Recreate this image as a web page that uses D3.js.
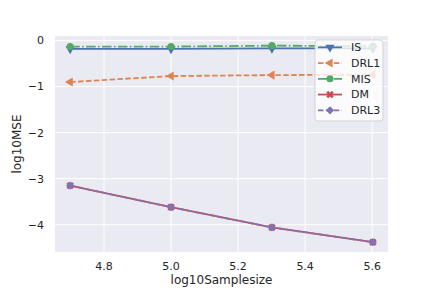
<!DOCTYPE html>
<html><head><meta charset="utf-8">
<script src="https://cdn.jsdelivr.net/npm/d3@7"></script>
<style>body{margin:0;background:#fff}svg{display:block}text{font-family:"DejaVu Sans",sans-serif;fill:#262626}</style>
</head><body><svg id="c" width="432" height="288"></svg>
<script>
const xValues = [4.699, 5.0, 5.301, 5.602];
const seriesNames = ["IS", "DRL1", "MIS", "DM", "DRL3"];
const IS   = [-0.18, -0.18, -0.17, -0.17];
const DRL1 = [-0.90, -0.77, -0.75, -0.74];
const MIS  = [-0.13, -0.13, -0.11, -0.12];
const DM   = [-3.15, -3.62, -4.06, -4.38];
const DRL3 = [-3.15, -3.62, -4.06, -4.38];
const xTicks = [4.8, 5.0, 5.2, 5.4, 5.6];
const yTicks = [0, -1, -2, -3, -4];

const styles = {
  IS:   {color:"#4C72B0", dash:null, sym:d3.symbolTriangle, rot:180, size:36},
  DRL1: {color:"#DD8452", dash:"5.5,2.4", sym:d3.symbolTriangle, rot:-90, size:36},
  MIS:  {color:"#55A868", dash:"9.6,2.4,1.5,2.4", sym:d3.symbolCircle, rot:0, size:40},
  DM:   {color:"#C44E52", dash:null, sym:d3.symbolCross, rot:45, size:34},
  DRL3: {color:"#8172B3", dash:"5.5,2.4", sym:d3.symbolSquare, rot:45, size:34}
};
const dataMap = {IS, DRL1, MIS, DM, DRL3};

const svg = d3.select("#c");
const L = 55, R = 388, T = 36, B = 252;
const x = d3.scaleLinear().domain([4.6538, 5.6472]).range([L, R]);
const y = d3.scaleLinear().domain([-4.593, 0.1]).range([B, T]);

svg.append("rect").attr("x", L).attr("y", T).attr("width", R-L).attr("height", B-T).attr("fill", "#EAEAF2");
const g = svg.append("g");
g.selectAll(".gx").data(xTicks).join("line").attr("x1", d=>x(d)).attr("x2", d=>x(d)).attr("y1", T).attr("y2", B).attr("stroke", "#fff").attr("stroke-width", 1);
g.selectAll(".gy").data(yTicks).join("line").attr("y1", d=>y(d)).attr("y2", d=>y(d)).attr("x1", L).attr("x2", R).attr("stroke", "#fff").attr("stroke-width", 1);

svg.selectAll(".xt").data(xTicks).join("text").attr("x", d=>x(d)).attr("y", 270).attr("text-anchor","middle").attr("font-size", 11).text(d=>d3.format(".1f")(d));
svg.selectAll(".yt").data(yTicks).join("text").attr("x", 44).attr("y", d=>y(d)).attr("dy","0.35em").attr("text-anchor","end").attr("font-size", 11).text(d=>d3.format("d")(d).replace("-","\u2212"));
svg.append("text").attr("x", (L+R)/2).attr("y", 284).attr("text-anchor","middle").attr("font-size", 12).text("log10Samplesize");
svg.append("text").attr("transform", `translate(21,${(T+B)/2}) rotate(-90)`).attr("text-anchor","middle").attr("font-size", 12).text("log10MSE");

const line = d3.line().x((d,i)=>x(xValues[i])).y(d=>y(d));
seriesNames.forEach(n => {
  const s = styles[n], vals = dataMap[n];
  svg.append("path").attr("d", line(vals)).attr("fill","none").attr("stroke", s.color).attr("stroke-width", 1.8).attr("stroke-dasharray", s.dash);
  svg.selectAll(null).data(vals).join("path")
    .attr("transform", (d,i)=>`translate(${x(xValues[i])},${y(d)}) rotate(${s.rot})`)
    .attr("d", d3.symbol().type(s.sym).size(s.size)).attr("fill", s.color);
});

// legend
const lg = svg.append("g");
lg.append("rect").attr("x", 315).attr("y", 40).attr("width", 68).attr("height", 81).attr("rx", 3)
  .attr("fill", "#fff").attr("fill-opacity", 0.8).attr("stroke", "#ccc").attr("stroke-opacity", 0.8);
seriesNames.forEach((n,i) => {
  const s = styles[n], yy = 47.3 + i*15.75;
  lg.append("line").attr("x1", 318).attr("x2", 342).attr("y1", yy).attr("y2", yy).attr("stroke", s.color).attr("stroke-width", 1.8).attr("stroke-dasharray", s.dash);
  lg.append("path").attr("transform", `translate(330,${yy}) rotate(${s.rot})`).attr("d", d3.symbol().type(s.sym).size(s.size)).attr("fill", s.color);
  lg.append("text").attr("x", 351).attr("y", yy).attr("dy","0.35em").attr("font-size", 11).text(n);
});
</script></body></html>
